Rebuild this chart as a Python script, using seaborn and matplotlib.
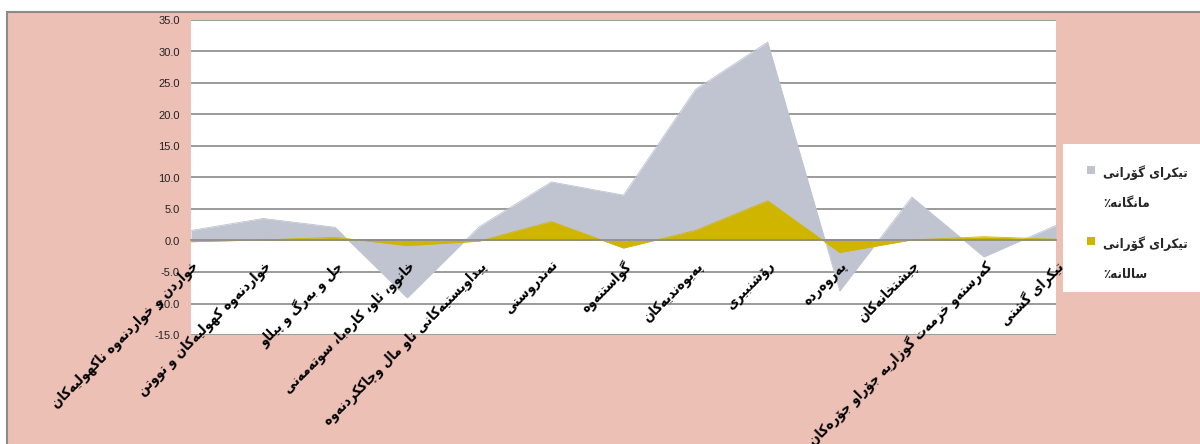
import numpy as np
import pandas as pd
import matplotlib
matplotlib.use("Agg")
import matplotlib.pyplot as plt
import seaborn as sns
from matplotlib.patches import Rectangle
from matplotlib import font_manager
from matplotlib.ft2font import FT2Font

# categories (Kurdish Sorani), left to right as drawn
categories = [
    "خواردن و خواردنەوە ناکهولیەکان",
    "خواردنەوە کهولیەکان و تووتن",
    "جل و بەرگ و پێڵاو",
    "خانوو، ئاو، کارەبا، سوتەمەنی",
    "پێداویستیەکانی ناو ماڵ وچاککردنەوە",
    "تەندروستی",
    "گواستنەوە",
    "پەیوەندیەکان",
    "ڕۆشنبیری",
    "پەروەردە",
    "چێشتخانەکان",
    "کەرستەو خزمەت گوزاریە جۆراو جۆرەکان",
    "تێکرای گشتی",
]
monthly = [1.6, 3.5, 2.1, -9.1, 2.2, 9.3, 7.2, 24.0, 31.5, -8.0, 6.9, -2.6, 2.4]
annual = [-0.2, 0.1, 0.5, -0.8, -0.1, 3.0, -1.2, 1.6, 6.3, -1.9, 0.1, 0.6, 0.2]
series_names = ["تێکرای گۆڕانی مانگانە٪", "تێکرای گۆڕانی ساڵانە٪"]

GRAY = "#c0c4d0"
GOLD = "#cfb500"
PINK = "#edc0b6"
LINE = "#8a8a8a"

# --- minimal arabic shaping (matplotlib has no complex text layout) ---
FORMS = {
    "ا": (0xFE8D, 0xFE8E, None, None), "د": (0xFEA9, 0xFEAA, None, None),
    "ر": (0xFEAD, 0xFEAE, None, None), "ز": (0xFEAF, 0xFEB0, None, None),
    "و": (0xFEED, 0xFEEE, None, None), "ژ": (0xFB8A, 0xFB8B, None, None),
    "ۆ": (0xFBD9, 0xFBDA, None, None), "ە": (0xFEE9, 0xFEEA, None, None),
    "ڕ": (0xFEAD, 0xFEAE, None, None),
    "ئ": (0xFE89, 0xFE8A, 0xFE8B, 0xFE8C), "ب": (0xFE8F, 0xFE90, 0xFE91, 0xFE92),
    "ت": (0xFE95, 0xFE96, 0xFE97, 0xFE98), "ج": (0xFE9D, 0xFE9E, 0xFE9F, 0xFEA0),
    "ح": (0xFEA1, 0xFEA2, 0xFEA3, 0xFEA4), "خ": (0xFEA5, 0xFEA6, 0xFEA7, 0xFEA8),
    "س": (0xFEB1, 0xFEB2, 0xFEB3, 0xFEB4), "ش": (0xFEB5, 0xFEB6, 0xFEB7, 0xFEB8),
    "ع": (0xFEC9, 0xFECA, 0xFECB, 0xFECC), "غ": (0xFECD, 0xFECE, 0xFECF, 0xFED0),
    "ف": (0xFED1, 0xFED2, 0xFED3, 0xFED4), "ق": (0xFED5, 0xFED6, 0xFED7, 0xFED8),
    "ل": (0xFEDD, 0xFEDE, 0xFEDF, 0xFEE0), "ڵ": (0xFEDD, 0xFEDE, 0xFEDF, 0xFEE0),
    "م": (0xFEE1, 0xFEE2, 0xFEE3, 0xFEE4), "ن": (0xFEE5, 0xFEE6, 0xFEE7, 0xFEE8),
    "ه": (0xFEE9, 0xFEEA, 0xFEEB, 0xFEEC), "ھ": (0xFBAA, 0xFBAB, 0xFBAC, 0xFBAD),
    "پ": (0xFB56, 0xFB57, 0xFB58, 0xFB59), "چ": (0xFB7A, 0xFB7B, 0xFB7C, 0xFB7D),
    "ڤ": (0xFB6A, 0xFB6B, 0xFB6C, 0xFB6D), "ک": (0xFB8E, 0xFB8F, 0xFB90, 0xFB91),
    "گ": (0xFB92, 0xFB93, 0xFB94, 0xFB95), "ی": (0xFBFC, 0xFBFD, 0xFBFE, 0xFBFF),
    "ێ": (0xFBFC, 0xFBFD, 0xFBFE, 0xFBFF),
}


def has_glyph(path, ch):
    return FT2Font(path).get_char_index(ord(ch)) != 0


# pick a bold (and if possible condensed) DejaVu face that carries arabic glyphs
label_font = font_manager.FontProperties(family="DejaVu Sans", weight="normal")
for stretch in ["condensed", "normal"]:
    fp = font_manager.FontProperties(family="DejaVu Sans", weight="bold", stretch=stretch)
    path = font_manager.findfont(fp)
    if has_glyph(path, "\ufe8d") and (stretch == "normal" or "ondensed" in path):
        label_font = font_manager.FontProperties(fname=path)
        break
CONDENSED = "ondensed" in str(label_font.get_file())


def shape(text):
    def dual(c):
        return c in FORMS and FORMS[c][2] is not None

    out = []
    for i, c in enumerate(text):
        if c not in FORMS:
            out.append(c)
            continue
        prev = text[i - 1] if i > 0 else ""
        nxt = text[i + 1] if i + 1 < len(text) else ""
        join_prev = dual(prev)
        join_next = dual(c) and nxt in FORMS
        iso, fin, ini, med = FORMS[c]
        if join_prev and join_next:
            g = med
        elif join_prev:
            g = fin
        elif join_next:
            g = ini
        else:
            g = iso
        out.append(chr(g))
    return "".join(reversed(out))


sns.set_theme(style="white")
plt.rcParams["font.family"] = ["DejaVu Sans"]

df = pd.DataFrame({"pos": np.arange(len(categories)), "monthly": monthly, "annual": annual})

fig = plt.figure(figsize=(12, 4.44), dpi=100, facecolor="white")
fig.patches.append(Rectangle((7 / 1200, -0.05), 1.1, 1.05 - 12 / 444, transform=fig.transFigure,
                             facecolor=PINK, edgecolor=LINE, linewidth=1.5, zorder=-2))
fig.patches.append(Rectangle((1063 / 1200, 1 - 292 / 444), 0.2, 148 / 444, transform=fig.transFigure,
                             facecolor="white", edgecolor="none", zorder=-1))
ax = fig.add_axes([191 / 1200, 1 - 335 / 444, 865 / 1200, 315 / 444])
ax.set_facecolor("white")

ax.fill_between(df["pos"], df["monthly"], 0, color=GRAY, linewidth=0, zorder=2)
sns.lineplot(data=df, x="pos", y="monthly", ax=ax, color=GRAY, linewidth=0.6, zorder=2)
ax.fill_between(df["pos"], df["annual"], 0, color=GOLD, linewidth=0, zorder=3)
sns.lineplot(data=df, x="pos", y="annual", ax=ax, color=GOLD, linewidth=0.6, zorder=3)

ax.set_xlim(0, len(categories) - 1)
ax.set_ylim(-15, 35)
ax.set_yticks(np.arange(-15, 36, 5))
ax.set_yticklabels([f"{v:.1f}" for v in np.arange(-15, 36, 5)], fontsize=8, color="#222222",
                   family="Liberation Sans")
ax.set_axisbelow(True)
ax.yaxis.grid(True, color=LINE, linewidth=1.2)
ax.xaxis.grid(False)
ax.xaxis.set_zorder(5)  # category labels sit on top of the areas
for s in ["top", "right", "left"]:
    ax.spines[s].set_visible(False)
ax.spines["bottom"].set_position(("data", 0))
ax.spines["bottom"].set_color(LINE)
ax.spines["bottom"].set_linewidth(1.2)
ax.spines["bottom"].set_zorder(4)

label_size = 10 if CONDENSED else 9
ax.set_xticks(df["pos"])
ax.set_xticklabels([shape(c) for c in categories], rotation=45, ha="right",
                   rotation_mode="anchor", fontproperties=label_font, fontsize=label_size, color="black")
ax.tick_params(axis="x", length=0, pad=13)
ax.tick_params(axis="y", length=0, pad=8)
ax.set_xlabel("")
ax.set_ylabel("")

# legend drawn by hand: square marker next to a two-line label
legend_size = 9.5 if CONDENSED else 8.5
for name, color, ytop in zip(series_names, [GRAY, GOLD], [166, 237]):
    fig.patches.append(Rectangle((1087 / 1200, 1 - (ytop + 8) / 444), 8 / 1200, 8 / 444,
                                 transform=fig.transFigure, facecolor=color, edgecolor="none", zorder=2))
    words = name.split(" ")
    label = shape(" ".join(words[:2])) + "\n" + shape(" ".join(words[2:]))
    fig.text(1103 / 1200, 1 - (ytop - 1) / 444, label, ha="left", va="top",
             fontproperties=label_font, fontsize=legend_size, linespacing=2.7)

fig.savefig("out.png", dpi=100, facecolor="white")
